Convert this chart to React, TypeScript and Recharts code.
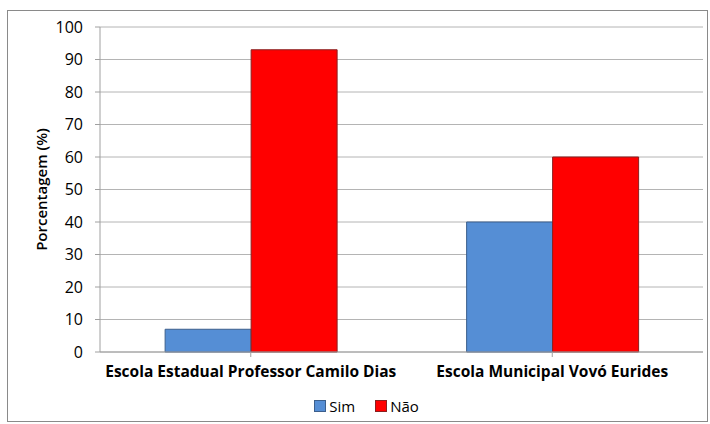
import React from "react";
import { BarChart, Bar, XAxis, YAxis, CartesianGrid, Legend } from "recharts";

const escolas = ["Escola Estadual Professor Camilo Dias", "Escola Municipal Vovó Eurides"];
const sim = [7, 40];
const nao = [93, 60];
const yTicks = [0, 10, 20, 30, 40, 50, 60, 70, 80, 90, 100];
const series = [
  { key: "Sim", fill: "#558ED5", stroke: "#3c5f8c" },
  { key: "Não", fill: "#FF0000", stroke: "#8a2020" },
];

const data = escolas.map((name, i) => ({ name, Sim: sim[i], Não: nao[i] }));

const font = "'Open Sans', 'Noto Sans', sans-serif";

const LegendBox = () => (
  <div style={{ display: "flex", justifyContent: "center", height: 20, alignItems: "center", fontSize: 15, color: "#000", paddingLeft: 30 }}>
    {series.map((s) => (
      <span key={s.key} style={{ display: "inline-flex", alignItems: "center", marginRight: 20 }}>
        <span style={{ display: "inline-block", width: 10, height: 10, background: s.fill, border: `1px solid ${s.stroke}`, marginRight: 3 }} />
        {s.key}
      </span>
    ))}
  </div>
);

export default function App() {
  return (
    <div style={{ position: "absolute", left: 0, top: 0, width: 710, height: 424, background: "#fff", fontFamily: font }}>
      <div style={{ position: "absolute", left: 7, top: 10, width: 699, height: 410, border: "1px solid #8a8a8a" }} />
      <BarChart
        width={710}
        height={424}
        data={data}
        margin={{ top: 27, right: 7, left: 20, bottom: 22 }}
        barCategoryGap="21.6%"
        barGap={0}
      >
        <CartesianGrid vertical={false} stroke="#b4b4b4" />
        <XAxis
          dataKey="name"
          stroke="#a0a0a0"
          tickSize={5}
          interval={0}
          tick={{ fill: "#000", fontSize: 15.5, fontWeight: 700, fontFamily: font }}
          tickMargin={9}
        />
        <YAxis
          width={80}
          domain={[0, 100]}
          ticks={yTicks}
          stroke="#a0a0a0"
          tickSize={5}
          tickMargin={12}
          tick={{ fill: "#000", fontSize: 16, fontFamily: font }}
          label={{
            value: "Porcentagem (%)",
            angle: -90,
            position: "insideLeft",
            dx: 17,
            style: { textAnchor: "middle", fontSize: 15, fontWeight: 600, fill: "#000", fontFamily: font },
          }}
        />
        <Legend verticalAlign="bottom" align="center" wrapperStyle={{ bottom: 8 }} content={() => <LegendBox />} />
        {series.map((s) => (
          <Bar key={s.key} dataKey={s.key} fill={s.fill} stroke={s.stroke} strokeWidth={1} isAnimationActive={false} />
        ))}
      </BarChart>
    </div>
  );
}
